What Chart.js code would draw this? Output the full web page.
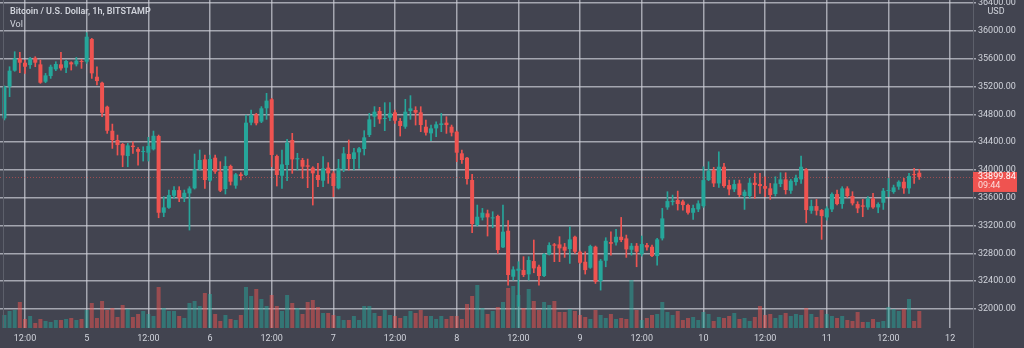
<!DOCTYPE html>
<html>
<head>
<meta charset="utf-8">
<script src="https://cdn.jsdelivr.net/npm/chart.js@4.4.1/dist/chart.umd.min.js"></script>
<style>
  html, body { margin: 0; padding: 0; background: #424450; }
  canvas { display: block; }
</style>
</head>
<body>
<canvas id="chart" width="1024" height="348"></canvas>
<script>
// BTC/USD hourly candles, Bitstamp, from Jan 4 08:00 to Jan 11 18:00
var firstHour = 8; // hours after Jan 4 00:00

var opens = [34743,35199,35429,35606,35544,35510,35614,35520,35270,35352,35448,35520,35472,35549,35520,35568,35558,35884,35342,35256,
  34911,34565,34431,34374,34201,34350,34302,34258,34249,34297,34489,33385,33457,33630,33711,33601,33663,33736,34010,34153,
  33847,34177,33976,33726,34058,33775,33938,33928,34681,34801,34696,34888,35017,34201,33918,34072,34432,34153,34144,34067,
  34034,33928,33846,34034,33952,33736,34010,34230,34158,34254,34302,34504,34767,34849,34734,34753,34830,34705,34623,34849,
  34863,34830,34623,34527,34599,34647,34681,34623,34551,34240,34177,33856,33208,33314,33376,33304,33338,32887,33127,32465,
  32551,32561,32499,32690,32609,32475,32786,32930,32930,32896,32862,33040,32824,32680,32594,32896,32402,32695,32963,32958,
  33040,33016,32852,32910,32790,32920,32896,32762,33016,33462,33539,33568,33548,33496,33385,33433,33481,33855,34000,33807,
  34047,33783,33721,33807,33625,33625,33817,33798,33769,33736,33654,33798,33865,33702,33827,33865,34009,33414,33481,33424,
  33318,33433,33654,33510,33736,33625,33510,33491,33462,33592,33462,33529,33697,33683,33760,33831,33736,33937,33961];

var highs = [35210,35486,35702,35693,35582,35620,35630,35582,35390,35510,35558,35693,35582,35558,35620,35592,35976,35894,35486,35266,
  34920,34661,34503,34383,34383,34407,34321,34335,34470,34561,34503,33616,33712,33760,33760,33712,33760,34230,34288,34216,
  34216,34216,34120,34192,34072,33952,33962,34792,34864,34816,34912,35103,35031,34216,34288,34441,34528,34240,34168,34158,
  34048,34096,34192,34106,33976,34154,34326,34432,34312,34326,34566,34816,34912,34902,34969,34969,34863,34743,35017,35070,
  34911,34911,34719,34647,34695,34815,34767,34647,34561,34288,34182,33937,33496,33448,33424,33400,33352,33496,33271,32609,
  32681,32753,32753,32993,32633,32801,32954,32944,33041,32944,33184,33049,32839,32824,32920,32906,32714,33026,33112,33146,
  33318,33064,32944,32944,33050,32944,32920,33016,33448,33688,33640,33697,33568,33510,33496,33558,34047,34119,34038,34263,
  34095,33855,33855,33855,33712,33879,33951,33951,33903,33807,33903,33961,33961,33865,33927,34201,34023,33568,33577,33433,
  33472,33673,33712,33760,33760,33688,33544,33577,33616,33663,33529,33736,33879,33783,33846,33879,33951,34023,34009];

var lows = [34720,35055,35420,35400,35391,35462,35486,35247,35256,35318,35429,35438,35400,35438,35496,35462,35534,35318,35223,34767,
  34527,34311,34215,34047,34047,34239,34071,34129,34129,34287,33313,33328,33448,33592,33544,33544,33136,33726,34000,33736,
  33832,33952,33688,33655,33784,33736,33856,33918,34648,34648,34681,34729,34048,33770,33736,33847,33952,34000,33880,33746,
  33496,33760,33760,33808,33616,33726,33976,34000,34000,34024,34216,34480,34624,34671,34566,34710,34671,34489,34599,34729,
  34647,34551,34503,34422,34479,34551,34527,34489,34120,34096,33798,33098,33194,33280,33050,33170,32800,32882,32345,32417,
  32040,32465,32417,32522,32345,32465,32777,32681,32681,32743,32656,32800,32656,32503,32584,32368,32272,32608,32776,32920,
  32968,32743,32776,32608,32762,32848,32752,32632,32992,33433,33496,33424,33424,33366,33290,33400,33462,33846,33760,33750,
  33750,33640,33688,33616,33433,33592,33592,33663,33616,33577,33625,33760,33654,33663,33783,33807,33241,33376,33352,33002,
  33280,33400,33496,33448,33606,33496,33385,33328,33433,33448,33385,33433,33616,33664,33721,33664,33664,33807,33865];

var closes = [35199,35429,35606,35544,35486,35606,35544,35256,35362,35486,35525,35462,35568,35520,35573,35554,35918,35391,35280,34824,
  34565,34431,34359,34210,34354,34330,34263,34273,34345,34493,33385,33462,33640,33711,33601,33673,33735,34010,34144,33856,
  34158,33976,33703,34058,33832,33938,33914,34681,34792,34672,34888,34998,34216,33928,34081,34393,34153,34172,34048,34048,
  33952,33856,34024,33952,33770,34024,34240,34158,34254,34312,34470,34729,34839,34729,34748,34815,34710,34633,34839,34887,
  34825,34647,34537,34599,34657,34671,34647,34537,34249,34144,33870,33223,33328,33386,33319,33319,32848,33113,32489,32570,
  32580,32489,32705,32585,32475,32791,32920,32911,32873,32839,33002,32824,32666,32560,32906,32392,32695,32982,32939,33040,
  32992,32858,32910,32824,32935,32887,32762,33002,33304,33553,33558,33510,33496,33385,33452,33520,33855,33990,33807,34047,
  33769,33721,33798,33640,33688,33817,33784,33769,33731,33640,33807,33865,33712,33846,33889,34047,33424,33481,33414,33337,
  33448,33654,33510,33736,33625,33520,33448,33472,33592,33462,33510,33702,33712,33750,33831,33736,33913,33927,33899.84];

var volumes = [260,340,360,520,180,240,100,180,140,120,160,160,180,200,160,180,360,500,200,540,
  360,400,220,460,380,220,280,340,280,240,820,400,340,340,240,200,500,540,440,700,
  680,280,140,260,180,160,260,820,640,780,580,440,660,440,340,660,500,400,280,520,
  560,420,300,300,260,240,160,160,240,160,440,440,300,240,360,260,240,200,240,340,
  300,360,240,240,180,240,180,240,240,180,480,640,860,400,280,340,420,520,800,840,
  660,400,780,540,360,520,460,540,320,320,380,340,260,220,180,360,260,200,280,180,
  200,180,960,360,160,200,260,280,520,320,260,340,160,200,220,160,320,280,140,220,
  200,240,300,180,200,140,220,440,260,280,200,260,300,240,280,260,400,280,220,360,
  280,240,200,240,160,140,320,120,120,180,120,140,420,380,340,380,580,140,340];

// x axis: hours after Jan 4 00:00
var timeTicks = [12, 24, 36, 48, 60, 72, 84, 96, 108, 120, 132, 144, 156, 168, 180, 192];
var timeLabels = ['12:00', '5', '12:00', '6', '12:00', '7', '12:00', '8', '12:00', '9', '12:00', '10', '12:00', '11', '12:00', '12'];
var priceTicks = [32000, 32400, 32800, 33200, 33600, 34000, 34400, 34800, 35200, 35600, 36000, 36400];

var title = 'Bitcoin / U.S. Dollar, 1h, BITSTAMP';
var lastPrice = 33899.84;
var barCountdown = '09:44';

var UP = '#26a69a', DOWN = '#ef5350';
var UP_VOL = 'rgba(38,166,154,0.5)', DOWN_VOL = 'rgba(239,83,80,0.5)';
var BG = '#424450';
var GRID = 'rgba(206,208,216,0.7)';
var TEXT = '#d1d4dc';
var FONT = 'Roboto';

var bodies = [], wicks = [], vols = [], candleColors = [], volColors = [];
opens.forEach(function (o, i) {
  var h = firstHour + i;
  var up = closes[i] >= o;
  bodies.push({ x: h, y: [o, closes[i]] });
  wicks.push({ x: h, y: [lows[i], highs[i]] });
  vols.push({ x: h, y: volumes[i] });
  candleColors.push(up ? UP : DOWN);
  volColors.push(up ? UP_VOL : DOWN_VOL);
});

var overlay = {
  id: 'overlay',
  beforeDraw: function (chart) {
    var ctx = chart.ctx;
    ctx.save();
    ctx.fillStyle = BG;
    ctx.fillRect(0, 0, chart.width, chart.height);
    ctx.restore();
  },
  beforeDatasetsDraw: function (chart) {
    // dotted last-price line
    var ctx = chart.ctx, a = chart.chartArea;
    var y = Math.round(chart.scales.y.getPixelForValue(lastPrice)) + 0.5;
    ctx.save();
    ctx.strokeStyle = 'rgba(239,83,80,0.55)';
    ctx.lineWidth = 1;
    ctx.setLineDash([1, 2]);
    ctx.beginPath();
    ctx.moveTo(a.left, y);
    ctx.lineTo(a.right, y);
    ctx.stroke();
    ctx.restore();
  },
  afterDraw: function (chart) {
    var ctx = chart.ctx, a = chart.chartArea;
    ctx.save();

    // pane borders
    ctx.strokeStyle = '#5d606b';
    ctx.lineWidth = 1;
    ctx.beginPath();
    ctx.moveTo(a.right + 0.5, 0);
    ctx.lineTo(a.right + 0.5, chart.height);
    ctx.moveTo(3.5, 0);
    ctx.lineTo(3.5, a.bottom);
    ctx.stroke();

    // legend text
    ctx.fillStyle = TEXT;
    ctx.textBaseline = 'middle';
    ctx.textAlign = 'left';
    ctx.font = '600 9px ' + FONT;
    ctx.fillText(title, 10, 12);
    ctx.font = '9px ' + FONT;
    ctx.fillText('Vol', 10, 25);

    // currency tag over the top tick
    ctx.fillStyle = BG;
    ctx.fillRect(a.right + 13, 6, 20, 11);
    ctx.fillStyle = TEXT;
    ctx.textAlign = 'center';
    ctx.fillText('USD', a.right + 23, 11.5);

    // last price tag
    var y = chart.scales.y.getPixelForValue(lastPrice);
    ctx.fillStyle = DOWN;
    ctx.fillRect(a.right, y - 5, 44, 20);
    ctx.fillStyle = '#ffffff';
    ctx.textAlign = 'left';
    ctx.fillText(lastPrice.toFixed(2), a.right + 5, y);
    ctx.fillStyle = 'rgba(255,255,255,0.8)';
    ctx.fillText(barCountdown, a.right + 5, y + 9);
    ctx.restore();
  }
};

new Chart(document.getElementById('chart'), {
  type: 'bar',
  data: {
    datasets: [{
      label: 'Body',
      data: bodies,
      backgroundColor: candleColors,
      grouped: false,
      categoryPercentage: 1,
      barPercentage: 0.78,
      minBarLength: 1,
      yAxisID: 'y',
      order: 1
    }, {
      label: 'Wick',
      data: wicks,
      backgroundColor: candleColors,
      grouped: false,
      categoryPercentage: 1,
      barPercentage: 1,
      maxBarThickness: 1,
      yAxisID: 'y',
      order: 2
    }, {
      label: 'Vol',
      data: vols,
      backgroundColor: volColors,
      grouped: false,
      categoryPercentage: 1,
      barPercentage: 0.78,
      yAxisID: 'yv',
      order: 3
    }]
  },
  options: {
    responsive: false,
    animation: false,
    devicePixelRatio: 1,
    layout: { padding: 0 },
    plugins: { legend: { display: false }, tooltip: { enabled: false } },
    scales: {
      x: {
        type: 'linear',
        offset: false,
        min: 7.14,
        max: 196.45,
        afterBuildTicks: function (scale) {
          scale.ticks = timeTicks.map(function (v) { return { value: v }; });
        },
        afterFit: function (scale) {
          scale.height = 20;
          scale.paddingLeft = 0;
          scale.paddingRight = 0;
        },
        grid: { color: GRID, lineWidth: 1.5, drawTicks: false, offset: false },
        border: { display: false },
        ticks: {
          color: TEXT,
          font: { family: FONT, size: 9 },
          padding: 5,
          maxRotation: 0,
          autoSkip: false,
          callback: function (v) { return timeLabels[timeTicks.indexOf(v)]; }
        }
      },
      y: {
        position: 'right',
        min: 31727,
        max: 36446,
        afterBuildTicks: function (scale) {
          scale.ticks = priceTicks.map(function (v) { return { value: v }; });
        },
        afterFit: function (scale) {
          scale.width = 51;
          scale.paddingTop = 0;
          scale.paddingBottom = 0;
        },
        grid: { color: GRID, lineWidth: 1.5, tickLength: 3 },
        border: { display: false },
        ticks: {
          color: TEXT,
          font: { family: FONT, size: 9 },
          padding: 2,
          callback: function (v) { return v.toFixed(2); }
        }
      },
      yv: {
        display: false,
        min: 0,
        max: 6560
      }
    }
  },
  plugins: [overlay]
});
</script>
</body>
</html>
